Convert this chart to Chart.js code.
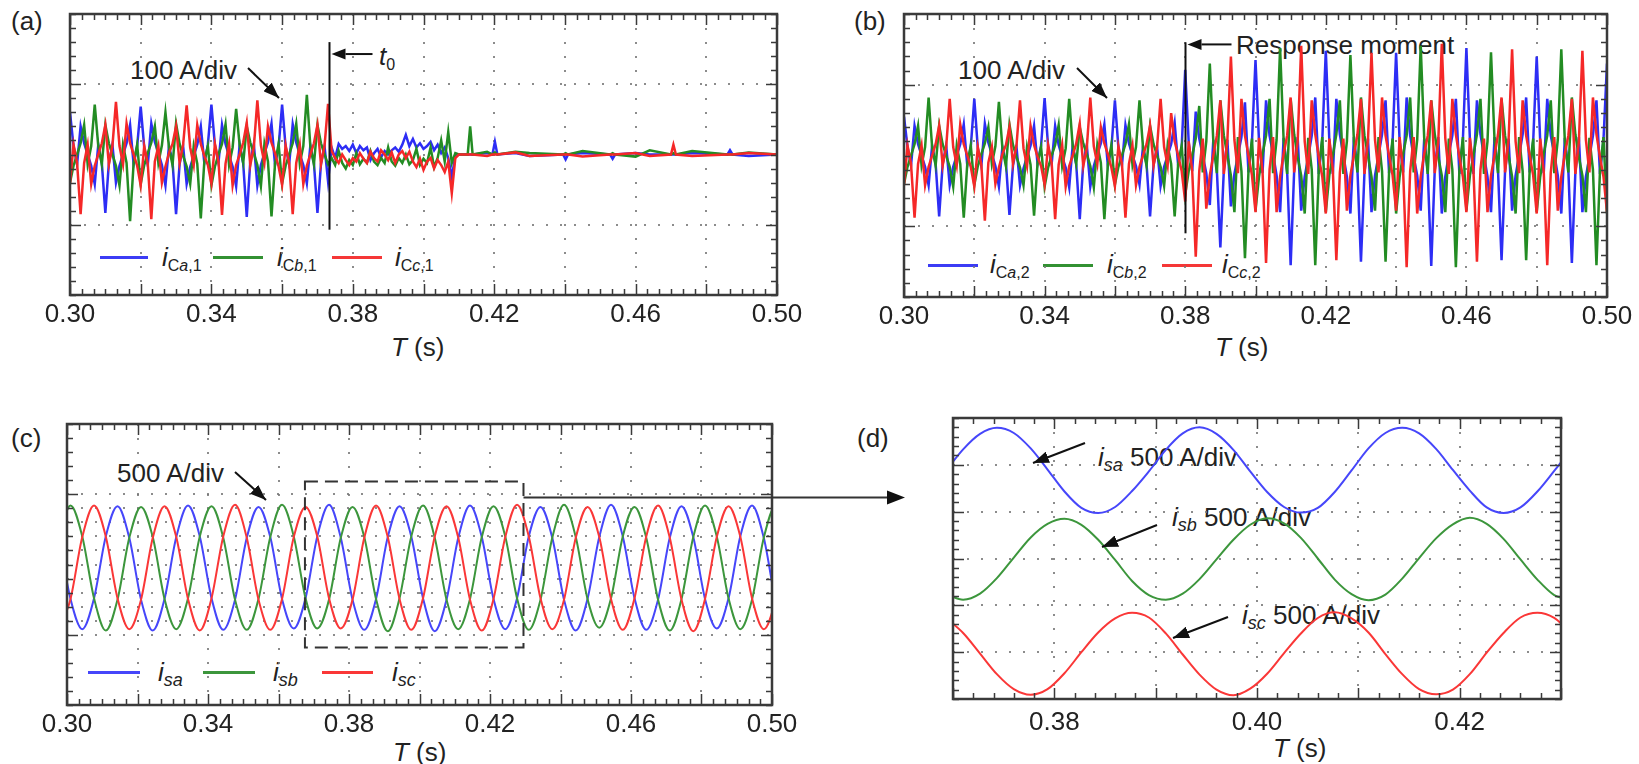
<!DOCTYPE html>
<html>
<head>
<meta charset="utf-8">
<title>Compensating and source currents</title>
<script src="https://cdn.jsdelivr.net/npm/chart.js@4.4.1/dist/chart.umd.min.js"></script>
<style>
  html, body { margin: 0; padding: 0; background: #fff; }
  body { position: relative; width: 1639px; height: 764px; overflow: hidden;
         font-family: 'Liberation Sans', Arial, Helvetica, sans-serif; color: #222; }
  .cv { position: absolute; z-index: 1; }
  .t { position: absolute; z-index: 0; font-size: 26px; line-height: 26px; white-space: nowrap; }
  .t sub { font-size: 16px; line-height: 0; vertical-align: -5px; }
  .t sub.big { font-size: 18px; }
  .lg { position: absolute; z-index: 0; height: 3px; }
  .ov { position: absolute; left: 0; top: 0; z-index: 2; pointer-events: none; }
</style>
</head>
<body>

<!-- textos (ficam por baixo dos canvas, como no original) -->
<div class="t" style="left:11px;top:8px">(a)</div>
<div class="t" style="left:854px;top:8px">(b)</div>
<div class="t" style="left:11px;top:425px">(c)</div>
<div class="t" style="left:857px;top:425px">(d)</div>

<div class="t" style="left:130px;top:57px">100 A/div</div>
<div class="t" style="left:958px;top:57px">100 A/div</div>
<div class="t" style="left:117px;top:460px">500 A/div</div>
<div class="t" style="left:1236px;top:32px">Response moment</div>
<div class="t" style="left:379px;top:43px"><i>t</i><sub>0</sub></div>

<div class="t" style="left:391px;top:334px"><i>T</i> (s)</div>
<div class="t" style="left:1215px;top:334px"><i>T</i> (s)</div>
<div class="t" style="left:393px;top:739px"><i>T</i> (s)</div>
<div class="t" style="left:1273px;top:735px"><i>T</i> (s)</div>

<!-- legenda (a) -->
<div class="lg" style="left:100px;top:256px;width:48px;background:rgb(60,60,245)"></div>
<div class="t" style="left:162px;top:244px"><i>i</i><sub>C<i>a</i>,1</sub></div>
<div class="lg" style="left:213px;top:256px;width:50px;background:rgb(50,145,50)"></div>
<div class="t" style="left:277px;top:244px"><i>i</i><sub>C<i>b</i>,1</sub></div>
<div class="lg" style="left:332px;top:256px;width:50px;background:rgb(245,55,55)"></div>
<div class="t" style="left:395px;top:244px"><i>i</i><sub>C<i>c</i>,1</sub></div>

<!-- legenda (b) -->
<div class="lg" style="left:928px;top:264px;width:50px;background:rgb(60,60,245)"></div>
<div class="t" style="left:990px;top:251px"><i>i</i><sub>C<i>a</i>,2</sub></div>
<div class="lg" style="left:1043px;top:264px;width:50px;background:rgb(50,145,50)"></div>
<div class="t" style="left:1107px;top:251px"><i>i</i><sub>C<i>b</i>,2</sub></div>
<div class="lg" style="left:1162px;top:264px;width:50px;background:rgb(245,55,55)"></div>
<div class="t" style="left:1222px;top:251px"><i>i</i><sub>C<i>c</i>,2</sub></div>

<!-- legenda (c) -->
<div class="lg" style="left:88px;top:671px;width:52px;background:rgb(70,70,250)"></div>
<div class="t" style="left:158px;top:659px"><i>i</i><sub class="big"><i>sa</i></sub></div>
<div class="lg" style="left:203px;top:671px;width:52px;background:rgb(60,150,60)"></div>
<div class="t" style="left:273px;top:659px"><i>i</i><sub class="big"><i>sb</i></sub></div>
<div class="lg" style="left:322px;top:671px;width:51px;background:rgb(250,55,55)"></div>
<div class="t" style="left:392px;top:659px"><i>i</i><sub class="big"><i>sc</i></sub></div>

<!-- rótulos (d) -->
<div class="t" style="left:1098px;top:444px"><i>i</i><sub class="big"><i>sa</i></sub> 500 A/div</div>
<div class="t" style="left:1172px;top:504px"><i>i</i><sub class="big"><i>sb</i></sub> 500 A/div</div>
<div class="t" style="left:1242px;top:602px"><i>i</i><sub class="big"><i>sc</i></sub> 500 A/div</div>

<canvas id="chartA" class="cv" style="left:0px;top:0px" width="817" height="365"></canvas>
<canvas id="chartB" class="cv" style="left:830px;top:0px" width="809" height="365"></canvas>
<canvas id="chartC" class="cv" style="left:0px;top:400px" width="915" height="364"></canvas>
<canvas id="chartD" class="cv" style="left:880px;top:400px" width="759" height="364"></canvas>

<svg class="ov" width="1639" height="764">
  <defs>
    <marker id="ah" viewBox="0 0 16 12" refX="16" refY="6" markerWidth="16" markerHeight="12"
            markerUnits="userSpaceOnUse" orient="auto">
      <path d="M0,0 L16,6 L0,12 z" fill="#111"/>
    </marker>
  </defs>
  <g stroke="#111" stroke-width="2" marker-end="url(#ah)">
    <line x1="248" y1="68" x2="279" y2="98"/>
    <line x1="1077" y1="68" x2="1107" y2="98"/>
    <line x1="235" y1="472" x2="266" y2="500"/>
    <line x1="1085" y1="443" x2="1033" y2="463"/>
    <line x1="1157" y1="525" x2="1102" y2="547"/>
    <line x1="1228" y1="617" x2="1173" y2="638"/>
  </g>
</svg>

<script>
// ---------------------------------------------------------------
// Dados lidos do oscilograma (unidade vertical = divisões)
// ---------------------------------------------------------------

// base de tempo de 1 ms (s), usada em (a) e (b)
const msTime = [
  0.300,0.301,0.302,0.303,0.304,0.305,0.306,0.307,0.308,0.309,
  0.310,0.311,0.312,0.313,0.314,0.315,0.316,0.317,0.318,0.319,
  0.320,0.321,0.322,0.323,0.324,0.325,0.326,0.327,0.328,0.329,
  0.330,0.331,0.332,0.333,0.334,0.335,0.336,0.337,0.338,0.339,
  0.340,0.341,0.342,0.343,0.344,0.345,0.346,0.347,0.348,0.349,
  0.350,0.351,0.352,0.353,0.354,0.355,0.356,0.357,0.358,0.359,
  0.360,0.361,0.362,0.363,0.364,0.365,0.366,0.367,0.368,0.369,
  0.370,0.371,0.372,0.373,0.374,0.375,0.376,0.377,0.378,0.379,
  0.380,0.381,0.382,0.383,0.384,0.385,0.386,0.387,0.388,0.389,
  0.390,0.391,0.392,0.393,0.394,0.395,0.396,0.397,0.398,0.399,
  0.400,0.401,0.402,0.403,0.404,0.405,0.406,0.407,0.408,0.409,
  0.410,0.411,0.412,0.413,0.414,0.415,0.416,0.417,0.418,0.419,
  0.420,0.421,0.422,0.423,0.424,0.425,0.426,0.427,0.428,0.429,
  0.430,0.431,0.432,0.433,0.434,0.435,0.436,0.437,0.438,0.439,
  0.440,0.441,0.442,0.443,0.444,0.445,0.446,0.447,0.448,0.449,
  0.450,0.451,0.452,0.453,0.454,0.455,0.456,0.457,0.458,0.459,
  0.460,0.461,0.462,0.463,0.464,0.465,0.466,0.467,0.468,0.469,
  0.470,0.471,0.472,0.473,0.474,0.475,0.476,0.477,0.478,0.479,
  0.480,0.481,0.482,0.483,0.484,0.485,0.486,0.487,0.488,0.489,
  0.490,0.491,0.492,0.493,0.494,0.495,0.496,0.497,0.498,0.499,
  0.500
];

// (a) correntes do conversor 1, 0.300–0.410 s (1 ms)
const aIca1 = [
  0.60, 0.12,-0.14, 0.40, 0.16, 0.00,-0.16,-0.42, 0.14,-0.12,-0.83,-0.12, 0.14,-0.40,-0.16, 0.00, 0.16, 0.42,-0.14, 0.12,
  0.68, 0.10,-0.15, 0.44, 0.18, 0.02,-0.15,-0.44, 0.12,-0.10,-0.85,-0.14, 0.12,-0.42,-0.18,-0.02, 0.14, 0.40,-0.12, 0.14,
  0.71, 0.13,-0.12, 0.42, 0.15,-0.02,-0.17,-0.45, 0.15,-0.13,-0.89,-0.10, 0.15,-0.44,-0.15, 0.02, 0.17, 0.44,-0.15, 0.10,
  0.71, 0.11,-0.14, 0.43, 0.17, 0.00,-0.15,-0.41, 0.13,-0.12,-0.83,-0.13, 0.12,-0.38,
  0.10,-0.05, 0.15, 0.08, 0.12, 0.05, 0.14, 0.02, 0.12, 0.06, 0.10,-0.08, 0.02, 0.08,-0.04, 0.05, 0.00, 0.06, 0.10,
  0.04, 0.14, 0.28, 0.12, 0.22, 0.10, 0.16, 0.08, 0.12, 0.18, 0.06, 0.14, 0.02, 0.10,-0.05,-0.32,-0.02, 0.00
];
const aIcb1 = [
 -0.40,-0.16, 0.00, 0.16, 0.42,-0.14, 0.12, 0.71, 0.12,-0.14, 0.42, 0.16, 0.00,-0.16,-0.44, 0.14,-0.12,-0.95,-0.12, 0.14,
 -0.42,-0.15, 0.02, 0.17, 0.40,-0.12, 0.13, 0.60, 0.10,-0.15, 0.44, 0.15,-0.02,-0.17,-0.42, 0.12,-0.13,-0.91,-0.10, 0.12,
 -0.44,-0.17, 0.00, 0.15, 0.43,-0.15, 0.10, 0.65, 0.13,-0.12, 0.40, 0.17, 0.02,-0.15,-0.45, 0.15,-0.10,-0.88,-0.13, 0.15,
 -0.41,-0.16, 0.00, 0.16, 0.44,-0.13, 0.12, 0.85, 0.11,-0.14, 0.42, 0.16, 0.00,-0.14,
 -0.05,-0.15, 0.05,-0.12,-0.20,-0.08,-0.15, 0.02,-0.14,-0.06,-0.12, 0.05,-0.10,-0.15,-0.05,-0.12, 0.10,-0.10,-0.16,
 -0.05,-0.12, 0.00,-0.14,-0.08, 0.08,-0.15,-0.06,-0.12, 0.10,-0.18,-0.05, 0.20,-0.10, 0.32,-0.12, 0.02, 0.00
];
const aIcc1 = [
 -0.42, 0.14,-0.12,-0.85,-0.12, 0.14,-0.42,-0.16, 0.00, 0.16, 0.42,-0.14, 0.12, 0.75, 0.12,-0.14, 0.44, 0.16, 0.00,-0.16,
 -0.44, 0.12,-0.13,-0.92,-0.10, 0.12,-0.40,-0.17, 0.02, 0.15, 0.40,-0.12, 0.14, 0.70, 0.10,-0.15, 0.42, 0.15,-0.02,-0.15,
 -0.41, 0.15,-0.10,-0.86,-0.13, 0.15,-0.44,-0.15, 0.00, 0.17, 0.45,-0.15, 0.10, 0.77, 0.13,-0.12, 0.40, 0.17, 0.02,-0.17,
 -0.43, 0.13,-0.12,-0.85,-0.12, 0.14,-0.42,-0.16, 0.00, 0.16, 0.42,-0.14, 0.12, 0.72,
  0.05,-0.05,-0.12, 0.00,-0.08,-0.15,-0.05,-0.10, 0.02,-0.06,-0.12, 0.04,-0.05,-0.10, 0.06, 0.00,-0.08, 0.03,-0.12,
  0.00, 0.05,-0.05, 0.04,-0.10,-0.18,-0.06,-0.22,-0.10,-0.05,-0.20,-0.08,-0.15,-0.25,-0.10,-0.55,-0.05, 0.00
];

// (a) depois de 0.41 s: linha plana com pequenos picos
const aTailTime = [
  0.4125, 0.4132, 0.4139, 0.4180, 0.4195, 0.4202, 0.4209, 0.4260, 0.4300,
  0.4395, 0.4402, 0.4409, 0.4450, 0.4528, 0.4535, 0.4542, 0.4600, 0.4640,
  0.4700, 0.4707, 0.4714, 0.4760, 0.4860, 0.4867, 0.4874, 0.4920, 0.5000
];
const aIca1Tail = [0.00, 0.00, 0.00, 0.02, 0.00, 0.18, 0.00, 0.02,-0.02, 0.00,-0.07, 0.00, 0.02, 0.00,-0.06, 0.00, 0.02, 0.00, 0.00, 0.00, 0.00, 0.02, 0.00, 0.06, 0.00,-0.02, 0.00];
const aIcb1Tail = [0.00, 0.40, 0.00, 0.04, 0.00, 0.03, 0.00, 0.04, 0.02, 0.00, 0.02, 0.00, 0.05, 0.00, 0.02, 0.00,-0.03, 0.06, 0.00, 0.02, 0.00, 0.05, 0.00, 0.00, 0.00, 0.03, 0.00];
const aIcc1Tail = [0.00, 0.00, 0.00,-0.02, 0.00, 0.00, 0.00, 0.03,-0.02, 0.00, 0.00, 0.00,-0.03, 0.00, 0.00, 0.00, 0.02,-0.02, 0.00, 0.14, 0.00,-0.02, 0.00, 0.00, 0.00, 0.02, 0.00];

// (b) correntes do conversor 2, 0.300–0.500 s (1 ms)
const bIca2 = [
  0.55, 0.12,-0.14, 0.42, 0.16, 0.00,-0.16,-0.42, 0.14,-0.12,-0.86,-0.12, 0.14,-0.42,-0.16, 0.00, 0.16, 0.44,-0.14, 0.12,
  0.80, 0.10,-0.15, 0.45, 0.18, 0.02,-0.15,-0.44, 0.12,-0.10,-0.84,-0.14, 0.12,-0.42,-0.18,-0.02, 0.14, 0.42,-0.12, 0.14,
  0.81, 0.13,-0.12, 0.42, 0.15,-0.02,-0.17,-0.45, 0.15,-0.13,-0.90,-0.10, 0.15,-0.44,-0.15, 0.02, 0.17, 0.44,-0.15, 0.10,
  0.78, 0.11,-0.14, 0.43, 0.17, 0.00,-0.15,-0.41, 0.13,-0.12,-0.86,-0.13, 0.12,-0.43,-0.16, 0.00, 0.16, 0.46,-0.14, 0.12,
  1.21, 0.18,-0.22, 0.62, 0.24, 0.00,-0.25,-0.70, 0.22,-0.20,-1.30,-0.20, 0.22,-0.72,-0.26, 0.00, 0.26, 0.75,-0.24, 0.20,
  1.35, 0.20,-0.25, 0.78, 0.28, 0.02,-0.28,-0.80, 0.25,-0.22,-1.55,-0.22, 0.26,-0.78,-0.30,-0.02, 0.28, 0.82,-0.26, 0.22,
  1.48, 0.22,-0.26, 0.80, 0.30, 0.00,-0.30,-0.82, 0.26,-0.20,-1.50,-0.24, 0.24,-0.80,-0.28, 0.00, 0.30, 0.78,-0.25, 0.20,
  1.45, 0.20,-0.24, 0.82, 0.28,-0.02,-0.28,-0.78, 0.24,-0.22,-1.56,-0.20, 0.26,-0.82,-0.30, 0.02, 0.28, 0.80,-0.26, 0.22,
  1.52, 0.22,-0.26, 0.78, 0.30, 0.00,-0.30,-0.80, 0.26,-0.22,-1.48,-0.22, 0.24,-0.78,-0.28, 0.00, 0.30, 0.82,-0.24, 0.20,
  1.40, 0.20,-0.25, 0.80, 0.28, 0.02,-0.28,-0.82, 0.25,-0.20,-1.52,-0.24, 0.26,-0.80,-0.30,-0.02, 0.28, 0.78,-0.26, 0.22,
  1.30
];
const bIcb2 = [
 -0.40,-0.16, 0.00, 0.16, 0.42,-0.14, 0.12, 0.82, 0.12,-0.14, 0.42, 0.16, 0.00,-0.16,-0.44, 0.14,-0.12,-0.88,-0.12, 0.14,
 -0.42,-0.15, 0.02, 0.17, 0.40,-0.12, 0.13, 0.76, 0.10,-0.15, 0.44, 0.15,-0.02,-0.17,-0.42, 0.12,-0.13,-0.85,-0.10, 0.12,
 -0.44,-0.17, 0.00, 0.15, 0.43,-0.15, 0.10, 0.80, 0.13,-0.12, 0.40, 0.17, 0.02,-0.15,-0.45, 0.15,-0.10,-0.90,-0.13, 0.15,
 -0.41,-0.16, 0.00, 0.16, 0.44,-0.13, 0.12, 0.78, 0.11,-0.14, 0.42, 0.16, 0.00,-0.16,-0.43, 0.14,-0.12,-0.86,-0.12, 0.14,
 -0.55,-0.22, 0.00, 0.24, 0.70,-0.24, 0.20, 1.30, 0.20,-0.25, 0.78, 0.28, 0.00,-0.28,-0.80, 0.26,-0.22,-1.45,-0.22, 0.24,
 -0.78,-0.30, 0.02, 0.28, 0.80,-0.25, 0.22, 1.52, 0.22,-0.26, 0.80, 0.30,-0.02,-0.28,-0.82, 0.25,-0.20,-1.55,-0.20, 0.26,
 -0.80,-0.28, 0.00, 0.30, 0.78,-0.26, 0.20, 1.42, 0.20,-0.24, 0.82, 0.28, 0.00,-0.30,-0.78, 0.26,-0.22,-1.50,-0.24, 0.24,
 -0.82,-0.30, 0.02, 0.28, 0.82,-0.24, 0.22, 1.55, 0.24,-0.26, 0.78, 0.30,-0.02,-0.28,-0.80, 0.24,-0.20,-1.58,-0.22, 0.26,
 -0.78,-0.28, 0.00, 0.30, 0.80,-0.26, 0.20, 1.46, 0.22,-0.25, 0.80, 0.28, 0.00,-0.30,-0.82, 0.26,-0.22,-1.48,-0.20, 0.24,
 -0.80,-0.30, 0.02, 0.28, 0.78,-0.25, 0.22, 1.50, 0.20,-0.24, 0.82, 0.30,-0.02,-0.28,-0.80, 0.25,-0.20,-1.55,-0.22, 0.26,
 -0.82
];
const bIcc2 = [
 -0.42, 0.14,-0.12,-0.88,-0.12, 0.14,-0.42,-0.16, 0.00, 0.16, 0.42,-0.14, 0.12, 0.80, 0.12,-0.14, 0.44, 0.16, 0.00,-0.16,
 -0.44, 0.12,-0.13,-0.92,-0.10, 0.12,-0.40,-0.17, 0.02, 0.15, 0.40,-0.12, 0.14, 0.78, 0.10,-0.15, 0.42, 0.15,-0.02,-0.15,
 -0.41, 0.15,-0.10,-0.90,-0.13, 0.15,-0.44,-0.15, 0.00, 0.17, 0.45,-0.15, 0.10, 0.82, 0.13,-0.12, 0.40, 0.17, 0.02,-0.17,
 -0.43, 0.13,-0.12,-0.88,-0.12, 0.14,-0.42,-0.16, 0.00, 0.16, 0.42,-0.14, 0.12, 0.80, 0.12,-0.14, 0.60, 0.20, 0.00,-0.22,
 -0.65, 0.20,-0.22,-1.43,-0.22, 0.24,-0.75,-0.28, 0.00, 0.28, 0.78,-0.26, 0.22, 1.40, 0.22,-0.25, 0.80, 0.28, 0.00,-0.28,
 -0.80, 0.25,-0.22,-1.52,-0.20, 0.26,-0.80,-0.30, 0.02, 0.28, 0.82,-0.24, 0.20, 1.55, 0.20,-0.26, 0.78, 0.30,-0.02,-0.30,
 -0.82, 0.24,-0.20,-1.48,-0.24, 0.24,-0.78,-0.28, 0.00, 0.30, 0.80,-0.26, 0.22, 1.45, 0.22,-0.24, 0.82, 0.28, 0.00,-0.28,
 -0.78, 0.26,-0.22,-1.58,-0.22, 0.26,-0.82,-0.30, 0.02, 0.28, 0.78,-0.25, 0.20, 1.58, 0.24,-0.26, 0.80, 0.30,-0.02,-0.30,
 -0.80, 0.25,-0.20,-1.50,-0.20, 0.24,-0.80,-0.28, 0.00, 0.30, 0.82,-0.24, 0.22, 1.50, 0.20,-0.25, 0.78, 0.28, 0.00,-0.28,
 -0.82, 0.24,-0.22,-1.55,-0.24, 0.26,-0.78,-0.30, 0.02, 0.28, 0.80,-0.26, 0.20, 1.48, 0.22,-0.24, 0.82, 0.30,-0.02,-0.30,
 -0.80
];

// (c) correntes da rede, amostras a cada 1/6 de ciclo (s)
const cTime = [
  0.29767, 0.30100, 0.30433, 0.30767, 0.31100, 0.31433,
  0.31767, 0.32100, 0.32433, 0.32767, 0.33100, 0.33433,
  0.33767, 0.34100, 0.34433, 0.34767, 0.35100, 0.35433,
  0.35767, 0.36100, 0.36433, 0.36767, 0.37100, 0.37433,
  0.37767, 0.38100, 0.38433, 0.38767, 0.39100, 0.39433,
  0.39767, 0.40100, 0.40433, 0.40767, 0.41100, 0.41433,
  0.41767, 0.42100, 0.42433, 0.42767, 0.43100, 0.43433,
  0.43767, 0.44100, 0.44433, 0.44767, 0.45100, 0.45433,
  0.45767, 0.46100, 0.46433, 0.46767, 0.47100, 0.47433,
  0.47767, 0.48100, 0.48433, 0.48767, 0.49100, 0.49433,
  0.49767, 0.50100, 0.50433
];
const cIsa = [
  0.39,-0.49,-0.92,-0.48, 0.40, 0.83,  0.38,-0.50,-0.94,-0.49, 0.39, 0.84,
  0.40,-0.48,-0.93,-0.50, 0.38, 0.82,  0.39,-0.49,-0.91,-0.48, 0.40, 0.85,
  0.38,-0.50,-0.93,-0.49, 0.39, 0.83,  0.40,-0.48,-0.95,-0.50, 0.38, 0.84,
  0.39,-0.49,-0.92,-0.48, 0.40, 0.82,  0.38,-0.50,-0.94,-0.49, 0.39, 0.85,
  0.40,-0.48,-0.93,-0.50, 0.38, 0.83,  0.39,-0.49,-0.91,-0.48, 0.40, 0.84,
  0.38,-0.50,-0.93
];
const cIsb = [
  0.39, 0.84, 0.40,-0.48,-0.94,-0.50,  0.38, 0.82, 0.39,-0.49,-0.92,-0.48,
  0.40, 0.83, 0.38,-0.50,-0.93,-0.49,  0.39, 0.85, 0.40,-0.48,-0.91,-0.50,
  0.38, 0.82, 0.39,-0.49,-0.95,-0.48,  0.40, 0.84, 0.38,-0.50,-0.92,-0.49,
  0.39, 0.83, 0.40,-0.48,-0.93,-0.50,  0.38, 0.85, 0.39,-0.49,-0.90,-0.48,
  0.40, 0.82, 0.38,-0.50,-0.94,-0.49,  0.39, 0.84, 0.40,-0.48,-0.92,-0.50,
  0.38, 0.83, 0.39
];
const cIsc = [
 -0.93,-0.49, 0.39, 0.84, 0.40,-0.48, -0.92,-0.50, 0.38, 0.83, 0.39,-0.49,
 -0.94,-0.48, 0.40, 0.85, 0.38,-0.50, -0.93,-0.49, 0.39, 0.82, 0.40,-0.48,
 -0.91,-0.50, 0.38, 0.84, 0.39,-0.49, -0.93,-0.48, 0.40, 0.83, 0.38,-0.50,
 -0.94,-0.49, 0.39, 0.85, 0.40,-0.48, -0.92,-0.50, 0.38, 0.82, 0.39,-0.49,
 -0.93,-0.48, 0.40, 0.84, 0.38,-0.50, -0.95,-0.49, 0.39, 0.83, 0.40,-0.48,
 -0.92,-0.50, 0.38
];

// (d) detalhe 0.37–0.43 s, traços deslocados verticalmente (div)
const dTime = [
  0.36933, 0.37100, 0.37267, 0.37433, 0.37600, 0.37767,
  0.37933, 0.38100, 0.38267, 0.38433, 0.38600, 0.38767,
  0.38933, 0.39100, 0.39267, 0.39433, 0.39600, 0.39767,
  0.39933, 0.40100, 0.40267, 0.40433, 0.40600, 0.40767,
  0.40933, 0.41100, 0.41267, 0.41433, 0.41600, 0.41767,
  0.41933, 0.42100, 0.42267, 0.42433, 0.42600, 0.42767,
  0.42933, 0.43100
];
const dIsa = [
  4.88, 5.33, 5.66, 5.79, 5.68, 5.35, 4.90, 4.43, 4.08, 3.97, 4.10, 4.44,
  4.86, 5.32, 5.67, 5.80, 5.66, 5.32, 4.86, 4.42, 4.10, 3.98, 4.08, 4.42,
  4.88, 5.35, 5.68, 5.79, 5.67, 5.34, 4.89, 4.45, 4.09, 3.97, 4.09, 4.43,
  4.87, 5.33
];
const dIsb = [
  2.24, 2.12, 2.25, 2.58, 3.02, 3.45, 3.74, 3.85, 3.72, 3.40, 2.97, 2.52,
  2.22, 2.12, 2.25, 2.56, 2.98, 3.40, 3.72, 3.86, 3.75, 3.44, 3.00, 2.55,
  2.24, 2.11, 2.23, 2.57, 3.01, 3.43, 3.73, 3.87, 3.74, 3.42, 2.98, 2.55,
  2.22, 2.12
];
const dIsc = [
  1.73, 1.41, 0.97, 0.53, 0.21, 0.09, 0.21, 0.55, 1.00, 1.42, 1.72, 1.84,
  1.74, 1.40, 0.95, 0.52, 0.20, 0.08, 0.22, 0.54, 0.98, 1.40, 1.73, 1.85,
  1.72, 1.42, 0.96, 0.53, 0.21, 0.10, 0.20, 0.53, 0.99, 1.41, 1.74, 1.84,
  1.73, 1.41
];

// rótulos dos eixos de tempo
const wideTickLabels = [0.30, 0.34, 0.38, 0.42, 0.46, 0.50];
const zoomTickLabels = [0.38, 0.40, 0.42];

// instantes marcados
const t0Time = 0.3733;            // t0 em (a)
const responseTime = 0.3799;      // "Response moment" em (b)
const zoomWindow = [0.3675, 0.4295]; // retângulo tracejado em (c)

// ---------------------------------------------------------------
const FONT = "'Liberation Sans', Arial, Helvetica, sans-serif";
const GRID = 'rgba(120,120,120,0.85)';
const CLEAR = 'rgba(0,0,0,0)';
const COL = {
  blue: 'rgb(45,45,245)', green: 'rgb(35,140,35)', red: 'rgb(245,40,40)',
  blueS: 'rgb(70,70,250)', greenS: 'rgb(60,150,60)', redS: 'rgb(250,55,55)'
};

function pts(t, v) { return v.map((y, i) => ({ x: t[i], y: y })); }

function near(a, b) { return Math.abs(a - b) < 1e-6; }
function onStep(v, step) { const r = v / step; return Math.abs(r - Math.round(r)) < 1e-6; }

function drawArrow(ctx, x1, y1, x2, y2, head, width) {
  const ang = Math.atan2(y2 - y1, x2 - x1);
  const bx = x2 - head * Math.cos(ang), by = y2 - head * Math.sin(ang);
  ctx.beginPath(); ctx.moveTo(x1, y1); ctx.lineTo(bx, by); ctx.stroke();
  ctx.beginPath();
  ctx.moveTo(x2, y2);
  ctx.lineTo(bx + width / 2 * Math.sin(ang), by - width / 2 * Math.cos(ang));
  ctx.lineTo(bx - width / 2 * Math.sin(ang), by + width / 2 * Math.cos(ang));
  ctx.closePath(); ctx.fill();
}

// moldura de osciloscópio com marcas para dentro nos quatro lados
const scopeFrame = {
  id: 'scopeFrame',
  afterDatasetsDraw(chart, args, o) {
    const { ctx, chartArea: a, scales: { x, y } } = chart;
    ctx.save();
    ctx.strokeStyle = '#3a3a3a';
    ctx.lineWidth = 1.5;
    ctx.beginPath();
    const n = Math.round((x.max - x.min) / o.xMinor);
    for (let i = 0; i <= n; i++) {
      const v = x.min + i * o.xMinor;
      const px = Math.round(x.getPixelForValue(v)) + 0.5;
      const len = onStep(v - x.min, o.xMajor) ? 11 : 6;
      ctx.moveTo(px, a.top); ctx.lineTo(px, a.top + len);
      ctx.moveTo(px, a.bottom); ctx.lineTo(px, a.bottom - len);
    }
    const m = Math.round((y.max - y.min) / o.yMinor);
    for (let j = 0; j <= m; j++) {
      const v = y.min + j * o.yMinor;
      const py = Math.round(y.getPixelForValue(v)) + 0.5;
      const len = o.yMajor.some(t => near(t, v)) ? 11 : 6;
      ctx.moveTo(a.left, py); ctx.lineTo(a.left + len, py);
      ctx.moveTo(a.right, py); ctx.lineTo(a.right - len, py);
    }
    ctx.stroke();
    ctx.lineWidth = 2.5;
    ctx.strokeRect(a.left, a.top, a.right - a.left, a.bottom - a.top);
    ctx.restore();
  }
};

// linha vertical com seta (t0 / Response moment)
const eventMarker = {
  id: 'eventMarker',
  afterDatasetsDraw(chart, args, o) {
    if (!o || o.at == null) return;
    const { ctx, scales: { x, y } } = chart;
    const px = Math.round(x.getPixelForValue(o.at)) + 0.5;
    ctx.save();
    ctx.strokeStyle = '#111'; ctx.fillStyle = '#111'; ctx.lineWidth = 2;
    ctx.beginPath();
    ctx.moveTo(px, y.getPixelForValue(o.top));
    ctx.lineTo(px, y.getPixelForValue(o.bottom));
    ctx.stroke();
    const py = y.getPixelForValue(o.arrowAt);
    drawArrow(ctx, px + o.arrowLen, py, px + 2, py, 14, 11);
    ctx.restore();
  }
};

// retângulo tracejado e seta para o painel (d)
const zoomBox = {
  id: 'zoomBox',
  afterDatasetsDraw(chart, args, o) {
    if (!o || !o.range) return;
    const { ctx, scales: { x, y } } = chart;
    const x1 = x.getPixelForValue(o.range[0]), x2 = x.getPixelForValue(o.range[1]);
    const y1 = y.getPixelForValue(o.top), y2 = y.getPixelForValue(o.bottom);
    ctx.save();
    ctx.strokeStyle = '#333'; ctx.fillStyle = '#111'; ctx.lineWidth = 2;
    ctx.setLineDash([13, 7]);
    ctx.strokeRect(x1, y1, x2 - x1, y2 - y1);
    ctx.setLineDash([]);
    const ya = Math.round(y.getPixelForValue(o.arrowAt)) + 0.5;
    drawArrow(ctx, x2, ya, o.arrowTo, ya, 18, 14);
    ctx.restore();
  }
};

function labelOnly(list) {
  return function (value) {
    const v = Math.round(value * 1000) / 1000;
    return list.some(t => near(t, v)) ? v.toFixed(2) : '';
  };
}

function scopeOptions(cfg) {
  return {
    responsive: false,
    maintainAspectRatio: false,
    animation: false,
    devicePixelRatio: 1,
    layout: { padding: cfg.pad },
    elements: { point: { radius: 0 }, line: { borderWidth: 2 } },
    plugins: {
      legend: { display: false },
      tooltip: { enabled: false },
      scopeFrame: cfg.frame,
      eventMarker: cfg.marker || {},
      zoomBox: cfg.box || {}
    },
    scales: {
      x: {
        type: 'linear', min: cfg.x[0], max: cfg.x[1],
        afterFit: s => { s.height = cfg.xHeight; },
        ticks: {
          stepSize: cfg.xGrid, autoSkip: false, maxRotation: 0, padding: cfg.labelPad,
          color: '#222', font: { family: FONT, size: 26 },
          callback: labelOnly(cfg.xLabels)
        },
        grid: {
          drawTicks: false, lineWidth: 2,
          color: c => (c.tick && (near(c.tick.value, cfg.x[0]) || near(c.tick.value, cfg.x[1]))) ? CLEAR : GRID
        },
        border: { display: false, dash: [2, 12] }
      },
      y: {
        type: 'linear', min: cfg.y[0], max: cfg.y[1],
        afterFit: s => { s.width = 0; },
        ticks: { display: false, stepSize: cfg.yGrid },
        grid: {
          drawTicks: false, lineWidth: 2,
          color: c => (c.tick && cfg.yShow(c.tick.value)) ? GRID : CLEAR
        },
        border: { display: false, dash: [2, 12] }
      }
    }
  };
}

function lineSet(label, data, color, smooth, width) {
  return {
    label: label, data: data, borderColor: color, backgroundColor: color,
    borderWidth: width || 2, pointRadius: 0, fill: false,
    tension: 0, cubicInterpolationMode: smooth ? 'monotone' : 'default'
  };
}

const wideFrame = { xMinor: 0.02 / 6, xMajor: 0.02, yMinor: 0.2, yMajor: [-1, 1] };

function makeChartA() {
  const t = msTime.slice(0, 111).concat(aTailTime);
  return new Chart(document.getElementById('chartA'), {
    type: 'line',
    data: { datasets: [
      lineSet('iCc,1', pts(t, aIcc1.concat(aIcc1Tail)), COL.red, false, 2.5),
      lineSet('iCb,1', pts(t, aIcb1.concat(aIcb1Tail)), COL.green, false, 2.5),
      lineSet('iCa,1', pts(t, aIca1.concat(aIca1Tail)), COL.blue, false, 2.5)
    ] },
    options: scopeOptions({
      pad: { left: 70, right: 40, top: 14, bottom: 0 }, xHeight: 70, labelPad: 4,
      x: [0.30, 0.50], xGrid: 0.02, xLabels: wideTickLabels,
      y: [-2, 2], yGrid: 1, yShow: v => near(Math.abs(v), 1),
      frame: wideFrame,
      marker: { at: t0Time, top: 1.60, bottom: -1.07, arrowAt: 1.43, arrowLen: 43 }
    }),
    plugins: [scopeFrame, eventMarker, zoomBox]
  });
}

function makeChartB() {
  return new Chart(document.getElementById('chartB'), {
    type: 'line',
    data: { datasets: [
      lineSet('iCc,2', pts(msTime, bIcc2), COL.red, false, 2.5),
      lineSet('iCb,2', pts(msTime, bIcb2), COL.green, false, 2.5),
      lineSet('iCa,2', pts(msTime, bIca2), COL.blue, false, 2.5)
    ] },
    options: scopeOptions({
      pad: { left: 74, right: 32, top: 14, bottom: 0 }, xHeight: 68, labelPad: 4,
      x: [0.30, 0.50], xGrid: 0.02, xLabels: wideTickLabels,
      y: [-2, 2], yGrid: 1, yShow: v => near(Math.abs(v), 1),
      frame: wideFrame,
      marker: { at: responseTime, top: 1.60, bottom: -1.10, arrowAt: 1.57, arrowLen: 46 }
    }),
    plugins: [scopeFrame, eventMarker, zoomBox]
  });
}

function makeChartC() {
  return new Chart(document.getElementById('chartC'), {
    type: 'line',
    data: { datasets: [
      lineSet('isc', pts(cTime, cIsc), COL.redS, true),
      lineSet('isb', pts(cTime, cIsb), COL.greenS, true),
      lineSet('isa', pts(cTime, cIsa), COL.blueS, true)
    ] },
    options: scopeOptions({
      pad: { left: 67, right: 143, top: 24, bottom: 0 }, xHeight: 59, labelPad: 4,
      x: [0.30, 0.50], xGrid: 0.02, xLabels: wideTickLabels,
      y: [-2, 2], yGrid: 0.2, yShow: v => Math.abs(v) <= 1 + 1e-6,
      frame: wideFrame,
      box: { range: zoomWindow, top: 1.18, bottom: -1.18, arrowAt: 0.96, arrowTo: 905 }
    }),
    plugins: [scopeFrame, eventMarker, zoomBox]
  });
}

function makeChartD() {
  return new Chart(document.getElementById('chartD'), {
    type: 'line',
    data: { datasets: [
      lineSet('isc', pts(dTime, dIsc), COL.redS, true),
      lineSet('isb', pts(dTime, dIsb), COL.greenS, true),
      lineSet('isa', pts(dTime, dIsa), COL.blueS, true)
    ] },
    options: scopeOptions({
      pad: { left: 73, right: 78, top: 18, bottom: 0 }, xHeight: 65, labelPad: 8,
      x: [0.37, 0.43], xGrid: 0.01, xLabels: zoomTickLabels,
      y: [0, 6], yGrid: 1, yShow: v => v > 0.5 && v < 5.5,
      frame: { xMinor: 0.002, xMajor: 0.01, yMinor: 0.2, yMajor: [1, 2, 3, 4, 5] }
    }),
    plugins: [scopeFrame, eventMarker, zoomBox]
  });
}

makeChartA();
makeChartB();
makeChartC();
makeChartD();
</script>
</body>
</html>
